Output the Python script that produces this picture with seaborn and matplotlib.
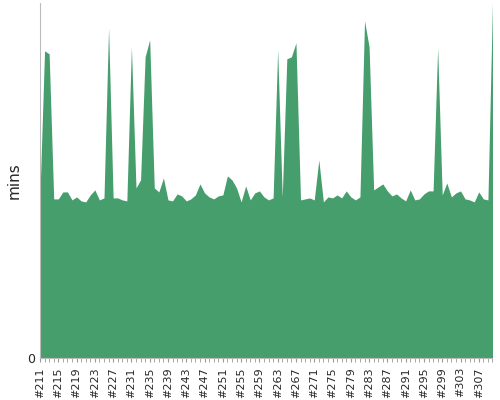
import matplotlib
matplotlib.use("Agg")
import matplotlib.pyplot as plt
import seaborn as sns
import numpy as np

builds = list(range(211, 311))
mins = [165,307,304,159,159,166,166,158,161,157,156,163,168,158,160,330,160,160,158,157,
        311,170,178,301,318,170,166,180,158,157,164,162,157,159,163,174,165,161,159,162,
        163,182,178,170,156,172,158,165,167,161,158,160,308,161,299,301,315,158,159,160,
        158,198,156,161,160,163,160,167,161,158,161,337,311,168,171,174,167,162,164,160,
        157,168,158,159,164,167,167,310,163,175,161,165,167,159,158,156,166,159,158,355]
tick_builds = builds[::4]
tick_labels = ["#%d" % b for b in tick_builds]

sns.set_style("white")
fig = plt.figure(figsize=(5, 4), dpi=100)
ax = fig.add_axes([0.08, 0.105, 0.905, 0.888])
sns.lineplot(x=builds, y=mins, ax=ax, color="#469E6D", linewidth=0)
ax.fill_between(builds, mins, 0, color="#469E6D", linewidth=0)
ax.set_xlim(builds[0], builds[-1])
ax.set_ylim(0, 355)
ax.set_yticks([0])
ax.set_yticklabels(["0"], fontsize=9)
ax.set_xticks(tick_builds)
ax.set_xticklabels(tick_labels, rotation=90, fontsize=8)
ax.set_xticks(builds, minor=True)
ax.tick_params(axis="x", which="both", direction="out", length=3, color="#999999", bottom=True)
ax.tick_params(axis="y", length=0)
ax.set_ylabel("mins", fontsize=11)
for s in ["top", "right"]:
    ax.spines[s].set_visible(False)
for s in ["left", "bottom"]:
    ax.spines[s].set_color("#bbbbbb")
fig.savefig("out.png", dpi=100)
